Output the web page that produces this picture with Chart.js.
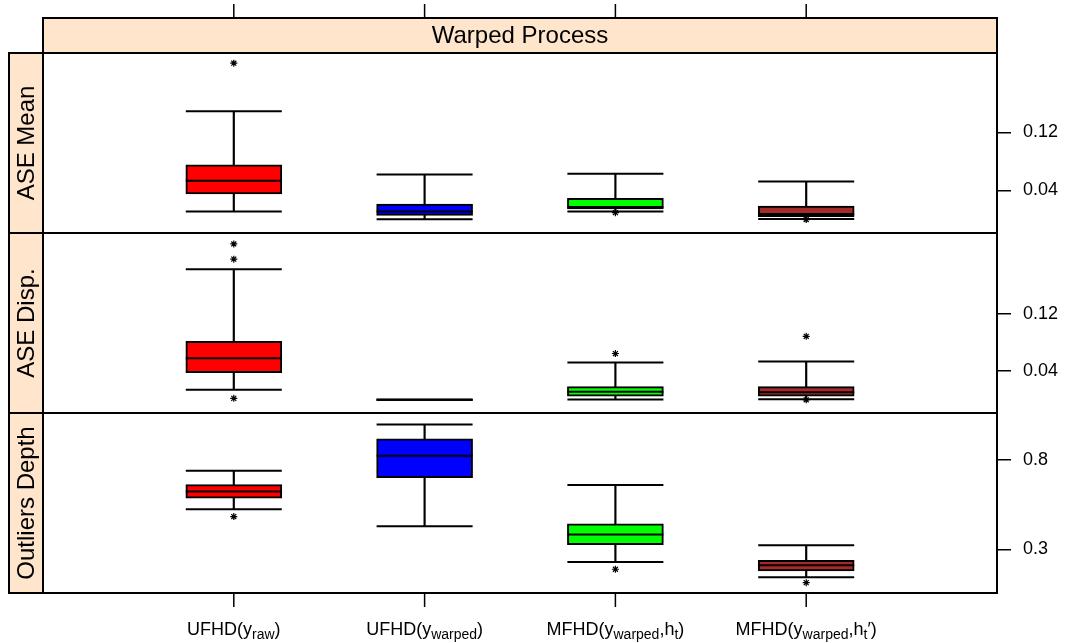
<!DOCTYPE html>
<html>
<head>
<meta charset="utf-8">
<script src="https://cdn.jsdelivr.net/npm/chart.js@4"></script>
<style>
  body{margin:0;background:#fff;}
  #wrap{width:1067px;height:643px;}
</style>
</head>
<body>
<div id="wrap"><canvas id="c" width="1067" height="643"></canvas></div>
<script>
// categories (x), _{..} marks a subscript
const categories=['UFHD(y_{raw})','UFHD(y_{warped})','MFHD(y_{warped},h_{t})','MFHD(y_{warped},h_{t}\u2032)'];
const stripTitle='Warped Process';
const panelNames=['ASE Mean','ASE Disp.','Outliers Depth'];
const boxColors=['#FF0000','#0000FF','#00FF00','#A52A2A'];

// ASE Mean
const meanLower =[0.0112,0.0003,0.0112,0.0008];
const meanQ1    =[0.0351,0.0058,0.0145,0.0040];
const meanMedian=[0.0533,0.0112,0.0173,0.0077];
const meanQ3    =[0.0752,0.0214,0.0290,0.0186];
const meanUpper =[0.1490,0.0619,0.0629,0.0523];
const meanOut   =[[0.215],[],[0.0095],[0.0]];

// ASE Disp.
const dispLower =[0.0141,0.0,0.0005,0.0008];
const dispQ1    =[0.0378,0.0,0.0052,0.0052];
const dispMedian=[0.0581,0.0,0.0113,0.0107];
const dispQ3    =[0.0818,0.0,0.0183,0.0183];
const dispUpper =[0.1827,0.0,0.0521,0.0535];
const dispOut   =[[0.218,0.1967,0.002],[],[0.0647],[0.0888,0.0]];

// Outliers Depth
const depthLower =[0.524,0.429,0.229,0.143];
const depthQ1    =[0.586,0.701,0.326,0.179];
const depthMedian=[0.623,0.824,0.382,0.210];
const depthQ3    =[0.662,0.919,0.442,0.238];
const depthUpper =[0.740,0.998,0.660,0.322];
const depthOut   =[[0.483],[],[0.188],[0.113]];

// tick values / labels of the right axes
const meanTicks=[0.04,0.12],  meanTickLabels=['0.04','0.12'];
const dispTicks=[0.04,0.12],  dispTickLabels=['0.04','0.12'];
const depthTicks=[0.3,0.8],   depthTickLabels=['0.3','0.8'];

const panels=[
  {id:'y1',lower:meanLower,q1:meanQ1,med:meanMedian,q3:meanQ3,upper:meanUpper,out:meanOut,ticks:meanTicks,labels:meanTickLabels,min:-0.0185,max:0.229},
  {id:'y2',lower:dispLower,q1:dispQ1,med:dispMedian,q3:dispQ3,upper:dispUpper,out:dispOut,ticks:dispTicks,labels:dispTickLabels,min:-0.0185,max:0.2333},
  {id:'y3',lower:depthLower,q1:depthQ1,med:depthMedian,q3:depthQ3,upper:depthUpper,out:depthOut,ticks:depthTicks,labels:depthTickLabels,min:0.055,max:1.063}
];

const FONT='"Liberation Sans", Arial, Helvetica, sans-serif';
const stripFill='#FFE5CC';
const BOXW=96;

const datasets=[];
const scales={x:{type:'linear',min:0,max:5,display:false,offset:false}};

panels.forEach(p=>{
  const pts=arr=>arr.map((v,i)=>({x:i+1,y:v}));
  datasets.push({type:'bar',yAxisID:p.id,grouped:false,order:4,
    data:p.q1.map((v,i)=>({x:i+1,y:[v,p.q3[i]]})),
    backgroundColor:boxColors,borderColor:'#000',borderWidth:2,borderSkipped:false,barThickness:BOXW});
  datasets.push({type:'bar',yAxisID:p.id,grouped:false,order:3,
    data:p.lower.map((v,i)=>({x:i+1,y:[v,p.q1[i]]})),
    backgroundColor:'#000',borderWidth:0,barThickness:1.5});
  datasets.push({type:'bar',yAxisID:p.id,grouped:false,order:3,
    data:p.q3.map((v,i)=>({x:i+1,y:[v,p.upper[i]]})),
    backgroundColor:'#000',borderWidth:0,barThickness:1.5});
  datasets.push({type:'line',yAxisID:p.id,order:2,showLine:false,
    data:[...pts(p.lower),...pts(p.upper),...pts(p.med)],
    pointStyle:'line',pointRadius:BOXW/2,pointHoverRadius:BOXW/2,pointBorderColor:'#000',pointBorderWidth:2});
  const outPts=[];
  p.out.forEach((list,i)=>list.forEach(v=>outPts.push({x:i+1,y:v})));
  datasets.push({type:'line',yAxisID:p.id,order:1,showLine:false,data:outPts,
    pointStyle:'star',pointRadius:3.5,pointHoverRadius:3.5,pointBorderColor:'#000',pointBorderWidth:1.2});

  scales[p.id]={type:'linear',position:'right',stack:'panels',stackWeight:1,min:p.min,max:p.max,
    afterBuildTicks:s=>{s.ticks=p.ticks.map(v=>({value:v}));},
    afterFit:s=>{s.width=70;},
    grid:{drawOnChartArea:false,drawTicks:true,tickLength:14,color:'#000',lineWidth:1.5},
    border:{display:false},
    ticks:{color:'#000',padding:12,font:{family:FONT,size:18},callback:(v,i)=>p.labels[i]}};
});

function parseLabel(s){
  const parts=[];const re=/_\{([^}]*)\}/g;let last=0,m;
  while((m=re.exec(s))){
    if(m.index>last) parts.push({t:s.slice(last,m.index),sub:false});
    parts.push({t:m[1],sub:true});last=re.lastIndex;
  }
  if(last<s.length) parts.push({t:s.slice(last),sub:false});
  return parts;
}

const lattice={
  id:'lattice',
  afterDraw(chart){
    const {ctx,chartArea:a,scales:sc}=chart;
    const x=sc.x;
    ctx.save();
    ctx.strokeStyle='#000';ctx.lineWidth=2;
    // top strip
    const sh=35,st=a.top-sh;
    ctx.fillStyle=stripFill;ctx.fillRect(a.left,st,a.right-a.left,sh);
    ctx.strokeRect(a.left,st,a.right-a.left,sh);
    ctx.fillStyle='#000';ctx.font='24px '+FONT;ctx.textAlign='center';ctx.textBaseline='middle';
    ctx.fillText(stripTitle,(a.left+a.right)/2,st+sh/2+1);
    // panels: left strips and frames
    panels.forEach((p,i)=>{
      const s=sc[p.id];const h=s.bottom-s.top;
      ctx.fillStyle=stripFill;ctx.fillRect(a.left-34,s.top,34,h);
      ctx.strokeRect(a.left-34,s.top,34,h);
      ctx.strokeRect(a.left,s.top,a.right-a.left,h);
      ctx.save();ctx.translate(a.left-17+1,s.top+h/2);ctx.rotate(-Math.PI/2);
      ctx.fillStyle='#000';ctx.font='24px '+FONT;ctx.textAlign='center';ctx.textBaseline='middle';
      ctx.fillText(panelNames[i],0,0);ctx.restore();
    });
    // x ticks (top and bottom) and labels
    ctx.lineWidth=1.5;
    categories.forEach((c,i)=>{
      const px=x.getPixelForValue(i+1);
      ctx.beginPath();ctx.moveTo(px,st-14);ctx.lineTo(px,st);ctx.moveTo(px,a.bottom);ctx.lineTo(px,a.bottom+14);ctx.stroke();
      const parts=parseLabel(c);
      let w=0;
      parts.forEach(pt=>{ctx.font=(pt.sub?'14px ':'18px ')+FONT;pt.w=ctx.measureText(pt.t).width;w+=pt.w;});
      let cx=px-w/2;const base=a.bottom+42;
      ctx.textAlign='left';ctx.textBaseline='alphabetic';ctx.fillStyle='#000';
      parts.forEach(pt=>{ctx.font=(pt.sub?'14px ':'18px ')+FONT;ctx.fillText(pt.t,cx,pt.sub?base+4:base);cx+=pt.w;});
    });
    ctx.restore();
  }
};

new Chart(document.getElementById('c'),{
  type:'bar',
  data:{datasets},
  options:{
    responsive:false,animation:false,devicePixelRatio:1,
    layout:{autoPadding:false,padding:{left:43,top:53,right:0,bottom:50}},
    plugins:{legend:{display:false},tooltip:{enabled:false}},
    scales
  },
  plugins:[lattice]
});
</script>
</body>
</html>
